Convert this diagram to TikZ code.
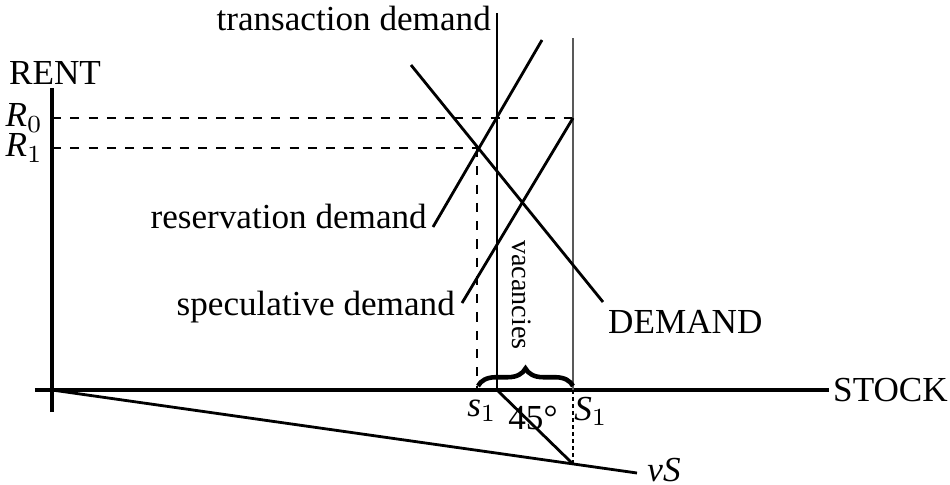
\documentclass[tikz,border=0pt]{standalone}
\usepackage{fontspec}
\setmainfont{Liberation Serif}
\usetikzlibrary{decorations.pathreplacing}
\begin{document}
\begin{tikzpicture}[
  every node/.style={font=\normalsize, inner sep=1pt},
  eixo/.style={line width=0.9pt},
  curva/.style={line width=0.8pt},
  guia/.style={line width=0.6pt, dash pattern=on 2.6pt off 2.6pt},
  pontos/.style={line width=0.6pt, dash pattern=on 1pt off 1pt},
  chave/.style={line width=1.3pt, decorate, decoration={brace, amplitude=5pt}}
]
\useasboundingbox (-0.52,-0.94) rectangle (8.98,3.90);
% Eixos
\coordinate (o) at (0,0);
\coordinate (ytopo) at (0,3.02);
\coordinate (ybase) at (0,-0.22);
\coordinate (xesq) at (-0.17,0);
\node[anchor=west] (stock) at (7.77,0) {STOCK};
\node (rent) at (0.03,3.17) {RENT};
\draw[eixo] (ybase) -- (ytopo);
\draw[eixo] (xesq) -- (stock.west);

% Rendas R0 e R1
\node[anchor=east] (r0) at (-0.05,2.72) {$\textit{R}_0$};
\node[anchor=east] (r1) at (-0.05,2.42) {$\textit{R}_1$};
\coordinate (r0a) at (0,2.72);
\coordinate (r0b) at (5.21,2.72);
\coordinate (r1a) at (0,2.42);
\coordinate (r1b) at (4.25,2.42);
\draw[guia] (r0a) -- (r0b);
\draw[guia] (r1a) -- (r1b);

% Curvas de procura
\coordinate (tt) at (4.45,3.77);
\coordinate (tb) at (4.45,0);
\coordinate (st) at (5.21,3.52);
\coordinate (sb) at (5.21,0);
\coordinate (rt) at (4.90,3.50);
\coordinate (rb) at (3.81,1.63);
\coordinate (eb) at (4.10,0.87);
\coordinate (dt) at (3.59,3.25);
\coordinate (db) at (5.51,0.88);
\draw[curva] (tt) -- (tb);
\draw[curva, black!65] (st) -- (sb);
\draw[curva] (rt) -- (rb);
\draw[curva] (r0b) -- (eb);
\draw[curva] (dt) -- (db);
\node[anchor=base east] (trans) at (4.43,3.60) {transaction demand};
\node[anchor=base east] (reserva) at (3.79,1.62) {reservation demand};
\node[anchor=base east] (especula) at (4.07,0.75) {speculative demand};
\node[anchor=base west] (demand) at (5.52,0.57) {DEMAND};

% Vagas e stock
\coordinate (s1) at (4.25,0);
\coordinate (v) at (5.21,-0.74);
\coordinate (vs) at (5.85,-0.83);
\draw[guia] (r1b) -- (s1);
\draw[pontos] (sb) -- (v);
\draw[curva] (o) -- (vs);
\draw[curva] (tb) -- (v);
\draw[chave] (4.26,0.04) -- (5.21,0.04);
\node[rotate=-90, font=\footnotesize] (vagas) at (4.70,0.95) {vacancies};
\node (s1lab) at (4.30,-0.21) {$\textit{s}_1$};
\node (ang) at (4.81,-0.28) {45°};
\node (S1lab) at (5.39,-0.21) {$\textit{S}_1$};
\node (vslab) at (6.12,-0.80) {\textit{vS}};
\end{tikzpicture}
\end{document}
